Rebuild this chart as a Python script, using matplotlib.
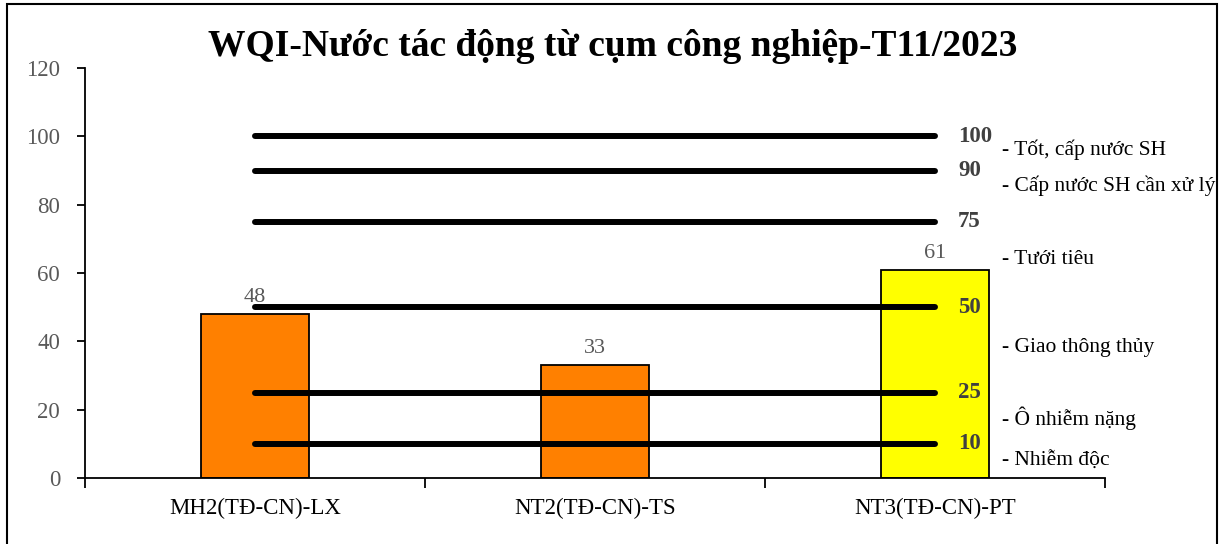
import matplotlib.pyplot as plt
import matplotlib.patches as mpatches
import numpy as np

# du lieu
tram = ['MH2(TĐ-CN)-LX', 'NT2(TĐ-CN)-TS', 'NT3(TĐ-CN)-PT']
wqi = [48, 33, 61]
mau_cot = ['#FF8000', '#FF8000', '#FFFF00']

nguong = [100, 90, 75, 50, 25, 10]
mo_ta = ['- Tốt, cấp nước SH', '- Cấp nước SH cần xử lý', '- Tưới tiêu',
         '- Giao thông thủy', '- Ô nhiễm nặng', '- Nhiễm độc']
mo_ta_y = [96, 85.5, 64, 38.3, 17.6, 5]

plt.rcParams['font.family'] = ['Liberation Serif', 'DejaVu Serif']

fig = plt.figure(figsize=(12.25, 5.44), dpi=100)
ax = fig.add_axes([85 / 1225, 1 - 478 / 544, 1020 / 1225, 410 / 544])

x = np.arange(len(tram))
ax.bar(x, wqi, width=0.315, color=mau_cot, edgecolor='black', linewidth=1.3, zorder=2)

for xi, v in zip(x, wqi):
    ax.annotate(str(v), (xi, v), xytext=(0, 5), textcoords='offset points',
                ha='center', va='bottom', fontsize=16, color='#595959')

# cac duong nguong
for n in nguong:
    ax.plot([x[0], x[-1]], [n, n], color='black', lw=4.3, solid_capstyle='round', zorder=3)
    ax.text(x[-1] + 0.068, n, str(n), fontsize=16.5, fontweight='bold', color='#404040',
            ha='left', va='center')

for t, yy in zip(mo_ta, mo_ta_y):
    ax.text(x[-1] + 0.197, yy, t, fontsize=15.5, color='black', ha='left', va='center')

ax.set_xlim(-0.5, 2.5)
ax.set_ylim(0, 120)
ax.set_yticks(range(0, 121, 20))
ax.set_xticks(x)
ax.set_xticklabels(tram)
ax.set_xticks([-0.5, 0.5, 1.5, 2.5], minor=True)
ax.tick_params(axis='x', which='major', length=0, pad=14, labelsize=16.5, labelcolor='black')
ax.tick_params(axis='x', which='minor', length=7, width=1.3, direction='out')
ax.tick_params(axis='y', length=6, width=1.3, direction='out', pad=12, labelsize=16.5,
               labelcolor='#595959')

for s in ['top', 'right']:
    ax.spines[s].set_visible(False)
for s in ['left', 'bottom']:
    ax.spines[s].set_linewidth(1.3)

fig.text(0.5, 1 - 47 / 544, 'WQI-Nước tác động từ cụm công nghiệp-T11/2023',
         ha='center', va='center', fontsize=27, fontweight='bold')

# khung ngoai
khung = mpatches.Rectangle((7 / 1225, -0.05), 1210 / 1225, 1.05 - 4 / 544,
                           transform=fig.transFigure, fill=False, edgecolor='black',
                           linewidth=1.5, clip_on=False)
fig.patches.append(khung)

fig.savefig('out.png', dpi=100)
